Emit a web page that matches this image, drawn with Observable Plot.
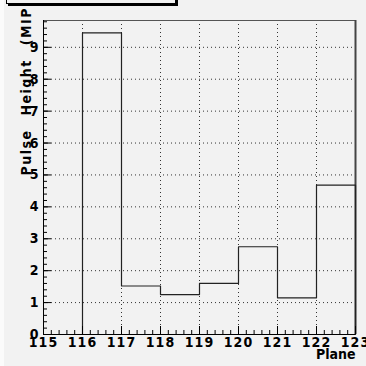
<!DOCTYPE html>
<html>
<head>
<meta charset="utf-8">
<script src="https://cdn.jsdelivr.net/npm/d3@7"></script>
<script src="https://cdn.jsdelivr.net/npm/@observablehq/plot@0.6"></script>
<style>
  html, body { margin: 0; padding: 0; background: #f2f2f2; }
  #wrap { position: relative; width: 366px; height: 366px; overflow: hidden; background: #f2f2f2; }
  #strip { position: absolute; left: 0; top: 0; width: 4px; height: 366px; background: #fbfbfb; }
  #wrap svg { position: absolute; left: 0; top: 0; max-width: none !important; width: 366px; height: 366px; }
  #titlebox { position: absolute; left: 6px; top: -20px; width: 168px; height: 22px; border: 1px solid #000; box-shadow: 2px 2px 0 #000; background: #f2f2f2; z-index: 2; }
  svg text { font-family: "Liberation Sans Narrow", "DejaVu Sans Condensed", "Liberation Sans", sans-serif; font-weight: bold; }
  .lbl text { letter-spacing: 1px; }
  .ytitle text { letter-spacing: 1.5px; word-spacing: 8px; }
</style>
</head>
<body>
<div id="wrap"><div id="strip"></div><div id="titlebox"></div></div>
<script>
// Histogram data: bins [plane, plane+1)
const planes = [115, 116, 117, 118, 119, 120, 121, 122];
const pulseHeights = [0, 9.45, 1.52, 1.25, 1.6, 2.75, 1.15, 4.68];
const xTickLabels = [115, 116, 117, 118, 119, 120, 121, 122, 123];
const yTickLabels = [0, 1, 2, 3, 4, 5, 6, 7, 8, 9];
const xTitle = "Plane";
const yTitle = "Pulse Height (MIP)";

const W = 366, H = 366;
const mL = 43, mR = 11, mT = 20, mB = 32;
const frameW = W - mL - mR, frameH = H - mT - mB;

const edges = planes.map((p, i) => ({x: p, y: pulseHeights[i]}));
edges.push({x: planes[planes.length - 1] + 1, y: 0});

const xMinor = d3.range(115, 123.001, 0.2).map(v => +v.toFixed(1));
const yMinor = d3.range(0, 9.81, 0.2).map(v => +v.toFixed(1));
const xGrid = xTickLabels.slice(1, -1);
const yGrid = yTickLabels.slice(1);

const chart = Plot.plot({
  width: W, height: H,
  marginLeft: mL, marginRight: mR, marginTop: mT, marginBottom: mB,
  style: {background: "transparent", overflow: "visible"},
  x: {domain: [115, 123]},
  y: {domain: [0, 9.84]},
  marks: [
    Plot.gridX(xGrid, {stroke: "#333", strokeOpacity: 1, strokeDasharray: "1,3"}),
    Plot.gridY(yGrid, {stroke: "#333", strokeOpacity: 1, strokeDasharray: "1,3"}),
    Plot.frame({stroke: "#555"}),
    Plot.ruleX([123], {stroke: "#444", strokeWidth: 2}),
    Plot.line(edges, {x: "x", y: "y", curve: "step-after", stroke: "#222", strokeWidth: 1.2}),
    Plot.tickY(yTickLabels, {y: d => d, insetRight: frameW - 8, stroke: "#000"}),
    Plot.tickY(yMinor, {y: d => d, insetRight: frameW - 4, stroke: "#000"}),
    Plot.tickX(xTickLabels, {x: d => d, insetTop: frameH - 8, stroke: "#000"}),
    Plot.tickX(xMinor, {x: d => d, insetTop: frameH - 4, stroke: "#000"}),
    Plot.ruleX([115], {stroke: "#000"}),
    Plot.ruleY([0], {stroke: "#000"}),
    Plot.axisX(xTickLabels, {tickSize: 0, tickPadding: 3, fontSize: 14, tickFormat: d => String(d), label: null, className: "lbl", fill: "#000"}),
    Plot.axisY(yTickLabels, {tickSize: 0, tickPadding: 4, fontSize: 14, tickFormat: d => String(d), label: null, className: "lbl", fill: "#000"}),
    Plot.text([xTitle], {frameAnchor: "bottom-right", textAnchor: "end", dy: 24.5, fontSize: 14, fontWeight: "bold", fill: "#000"}),
    Plot.text([yTitle], {frameAnchor: "top-left", textAnchor: "start", rotate: -90, dx: -22.5, dy: 155, fontSize: 14, fontWeight: "bold", fill: "#000", className: "ytitle"})
  ]
});
document.getElementById("wrap").appendChild(chart);
</script>
</body>
</html>
